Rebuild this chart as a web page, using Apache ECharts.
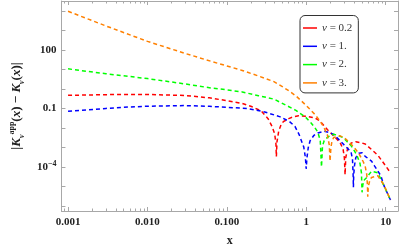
<!DOCTYPE html>
<html><head><meta charset="utf-8">
<script src="https://cdn.jsdelivr.net/npm/echarts@6/dist/echarts.min.js"></script>
<style>html,body{margin:0;padding:0;background:#fff}#c{width:399px;height:252px}</style>
</head><body><div id="c"></div>
<script>
// ---------- data ----------
const seriesNames = ['ν = 0.2', 'ν = 1.', 'ν = 2.', 'ν = 3.'];
const seriesColors = ['#ff0000', '#0000ff', '#00ff00', '#ff8000'];

const nu02X = [0.001,0.003,0.01,0.03,0.06,0.1,0.156,0.2,0.27,0.33,0.37,0.40,0.415,0.42,0.428,0.45,0.48,0.514,0.6,0.68,0.8,1.0,1.28,1.5,1.84,2.2,2.66,2.91,3.02,3.08,3.14,3.34,3.7,4.2,5.0,5.52,6.6,7.96,9.5,11.5];
const nu02Y = [0.47,0.51,0.52,0.46,0.35,0.25,0.18,0.13,0.075,0.03,0.012,0.005,0.0015,0.00034,0.002,0.007,0.014,0.021,0.03,0.037,0.042,0.040,0.033,0.022,0.0083,0.004,0.0018,0.0008,0.00028,0.00004,0.0003,0.00104,0.0017,0.00195,0.0017,0.0015,0.0008,0.0004,0.00015,0.00005];

const nu1X = [0.001,0.003,0.005,0.01,0.03,0.06,0.1,0.188,0.3,0.47,0.615,0.72,0.81,0.93,0.975,0.997,1.02,1.06,1.117,1.25,1.4,1.68,1.9,2.21,2.66,3.19,3.66,3.82,3.9,3.92,3.96,4.05,4.2,4.6,5.04,5.52,6.63,7.26,8.7,9.5,11.5];
const nu1Y = [0.071,0.1,0.115,0.13,0.14,0.128,0.115,0.097,0.066,0.037,0.021,0.012,0.0047,0.00104,0.0003,0.00008,0.0003,0.001,0.0022,0.0042,0.0055,0.0068,0.006,0.0047,0.0022,0.00104,0.00059,0.00025,0.00003,0.000009,0.00004,0.00012,0.0003,0.0005,0.00053,0.00035,0.0002,0.00011,0.000035,0.000011,0.000002];

const nu2X = [0.001,0.003,0.01,0.03,0.0628,0.1,0.156,0.25,0.391,0.55,0.74,0.97,1.15,1.28,1.40,1.50,1.555,1.6,1.68,1.76,2.0,2.21,2.5,2.91,3.66,4.1,4.40,4.75,4.95,5.04,5.15,5.4,5.78,6.63,7.96,9.5,11.5];
const nu2Y = [10.7,6.0,3.4,1.8,1.12,0.9,0.7,0.45,0.30,0.15,0.08,0.037,0.018,0.0105,0.006,0.0022,0.0001,0.0012,0.0022,0.0028,0.0042,0.0047,0.0042,0.0032,0.00125,0.0006,0.00034,0.00015,0.00005,0.000005,0.000012,0.000022,0.000029,0.00006,0.00005,0.000011,0.000002];

const nu3X = [0.001,0.003,0.01,0.03,0.0628,0.1,0.156,0.25,0.391,0.5,0.615,0.74,0.86,1.0,1.28,1.5,1.68,1.84,1.95,1.99,2.04,2.1,2.21,2.66,3.0,3.5,4.0,4.6,5.2,5.52,5.78,5.9,5.94,6.05,6.3,6.63,7.96,9.5,11.5];
const nu3Y = [9600,1700,275,66,26.3,15.1,8.9,4.6,2.38,1.32,0.76,0.44,0.25,0.14,0.05,0.022,0.01,0.0045,0.0013,0.0002,0.0009,0.002,0.0032,0.0039,0.0032,0.0018,0.001,0.00049,0.00019,0.000108,0.00004,0.00001,0.000003,0.00001,0.00002,0.000029,0.000035,0.000012,0.000002];

const xTickValues = [0.001, 0.01, 0.1, 1, 10];
const xTickLabels = ['0.001', '0.010', '0.100', '1', '10'];
const yTickValues = [100, 0.1, 1e-4];
const yTickLabels = ['100', '0.1', '10^−4'];

// ---------- layout / style ----------
const xMin = Math.pow(10, -3.083), xMax = Math.pow(10, 1.155);
const yMin = Math.pow(10, -6.26), yMax = Math.pow(10, 4.51);
const frame = '#a8a8a8';
const serif = '"Liberation Serif", "DejaVu Serif", serif';

const xMinor = [], yDecades = [];
for (let e = -4; e <= 1; e++) for (let m = 2; m <= 9; m++) xMinor.push(m * Math.pow(10, e));
for (let e = -6; e <= 4; e++) yDecades.push(Math.pow(10, e));

function pairs(xs, ys) { return xs.map((x, i) => [x, ys[i]]); }
const allX = [nu02X, nu1X, nu2X, nu3X], allY = [nu02Y, nu1Y, nu2Y, nu3Y];

function xAx(pos, ticks, len, showLine, labels) {
  return {
    type: 'log', logBase: 10, min: xMin, max: xMax, position: pos,
    axisLine: { show: showLine, onZero: false, lineStyle: { color: frame, width: 1 } },
    axisTick: { show: true, inside: true, length: len, customValues: ticks, lineStyle: { color: frame, width: 1 } },
    axisLabel: labels ? {
      show: true, customValues: xTickValues, margin: 6,
      formatter: v => { const i = xTickValues.findIndex(t => Math.abs(Math.log10(t) - Math.log10(v)) < 1e-6); return i >= 0 ? xTickLabels[i] : ''; },
      fontFamily: serif, fontWeight: 'bold', fontSize: 11, color: '#222'
    } : { show: false },
    splitLine: { show: false }, minorTick: { show: false }
  };
}
function yAx(pos, ticks, len, showLine, labels) {
  return {
    type: 'log', logBase: 10, min: yMin, max: yMax, position: pos,
    axisLine: { show: showLine, onZero: false, lineStyle: { color: frame, width: 1 } },
    axisTick: { show: true, inside: true, length: len, customValues: ticks, lineStyle: { color: frame, width: 1 } },
    axisLabel: labels ? {
      show: true, customValues: yTickValues, margin: 5,
      formatter: v => {
        const i = yTickValues.findIndex(t => Math.abs(Math.log10(t) - Math.log10(v)) < 1e-6);
        if (i < 0) return '';
        const s = yTickLabels[i];
        if (s.indexOf('^') >= 0) { const p = s.split('^'); return '{b|' + p[0] + '}{s|' + p[1] + '}'; }
        return '{b|' + s + '}';
      },
      rich: {
        b: { fontFamily: serif, fontWeight: 'bold', fontSize: 11, color: '#222', lineHeight: 14 },
        s: { fontFamily: serif, fontWeight: 'bold', fontSize: 8, color: '#222', verticalAlign: 'top', lineHeight: 14, padding: [0, 0, 6, 0] }
      }
    } : { show: false },
    splitLine: { show: false }, minorTick: { show: false }
  };
}

const xAxes = [xAx('bottom', xTickValues, 4, true, true), xAx('bottom', xMinor, 2.5, false, false),
               xAx('top', xTickValues, 4, true, false), xAx('top', xMinor, 2.5, false, false)];
xAxes[0].name = 'x';
xAxes[0].nameLocation = 'middle';
xAxes[0].nameGap = 24;
xAxes[0].nameTextStyle = { fontFamily: serif, fontWeight: 'bold', fontSize: 12, color: '#222' };

const yAxes = [yAx('left', yDecades, 4, true, true), yAx('right', yDecades, 4, true, false)];
yAxes[0].name = '{n||}{k|K}{sub|ν}{sup|app}{n|(}{k|x}{n|) − }{k|K}{sub|ν}{n|(}{k|x}{n|)|}';
yAxes[0].nameLocation = 'middle';
yAxes[0].nameRotate = 90;
yAxes[0].nameGap = 23;
yAxes[0].nameTextStyle = {
  rich: {
    n: { fontFamily: serif, fontWeight: 'bold', fontSize: 13, color: '#222', lineHeight: 18 },
    k: { fontFamily: serif, fontWeight: 'bold', fontStyle: 'italic', fontSize: 13, color: '#222', lineHeight: 18 },
    sub: { fontFamily: serif, fontWeight: 'bold', fontStyle: 'italic', fontSize: 8, color: '#222', lineHeight: 18, verticalAlign: 'bottom' },
    sup: { fontFamily: serif, fontWeight: 'bold', fontSize: 8, color: '#222', lineHeight: 18, verticalAlign: 'top' }
  }
};

const series = seriesNames.map((n, i) => ({
  name: n, type: 'line', xAxisIndex: 0, yAxisIndex: 0,
  data: pairs(allX[i], allY[i]), showSymbol: false, symbol: 'none', smooth: false,
  lineStyle: { color: seriesColors[i], width: 1.5, type: [4, 3] },
  itemStyle: { color: seriesColors[i] }, animation: false, z: 3
}));

const chart = echarts.init(document.getElementById('c'), null, { renderer: 'canvas' });
chart.setOption({
  animation: false,
  backgroundColor: '#fff',
  grid: { left: 42, right: 1, top: 1, bottom: 32, containLabel: false },
  xAxis: xAxes,
  yAxis: yAxes,
  legend: {
    data: seriesNames, orient: 'vertical', left: 300, top: 15.5,
    padding: [6, 6, 3.5, 3], itemGap: 5.3, itemWidth: 14, itemHeight: 1.5, icon: 'rect',
    backgroundColor: '#fff', borderColor: '#333', borderWidth: 1, borderRadius: 5,
    formatter: n => n.replace('ν', '{i|ν}'),
    textStyle: {
      fontFamily: serif, fontSize: 11, color: '#333', lineHeight: 13,
      rich: { i: { fontFamily: serif, fontStyle: 'italic', fontSize: 11, color: '#333', lineHeight: 13 } }
    }
  },
  series: series
});
</script></body></html>
